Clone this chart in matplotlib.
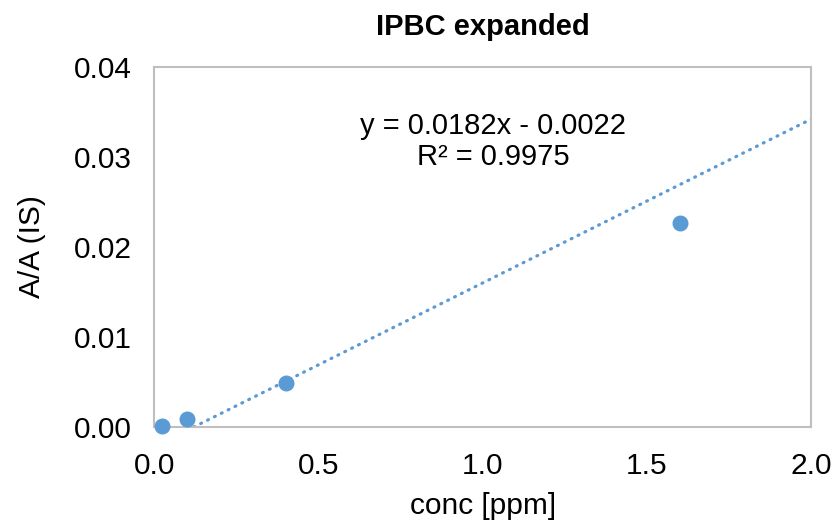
import numpy as np
import matplotlib
matplotlib.use("Agg")
import matplotlib.pyplot as plt

plt.rcParams['font.family'] = ['Liberation Sans', 'DejaVu Sans']

# data
conc = [0.025, 0.1, 0.4, 1.6]
ratio = [0.0001, 0.0009, 0.0049, 0.0226]
slope = 0.0182
intercept = -0.0022
x_ticks = [0.0, 0.5, 1.0, 1.5, 2.0]
y_ticks = [0.00, 0.01, 0.02, 0.03, 0.04]

blue = '#5b9bd5'
grey = '#bfbfbf'

fig = plt.figure(figsize=(8.33, 5.22), dpi=100)
ax = fig.add_axes([0.185, 0.182, 0.789, 0.690])

# trendline, only drawn where y >= 0 (like Excel clips it at the axis)
x0 = -intercept / slope
xs = np.array([x0, x_ticks[-1]])
ax.plot(xs, slope * xs + intercept, linestyle=(0, (0.3, 2.1)), color=blue,
        lw=2.3, dash_capstyle='round', zorder=2)

ax.plot(conc, ratio, 'o', color=blue, ms=10.5, mec=blue, zorder=3, clip_on=False)

ax.set_xlim(0, 2.0)
ax.set_ylim(0, 0.04)
ax.set_xticks(x_ticks)
ax.set_yticks(y_ticks)
ax.set_xticklabels([f'{v:.1f}' for v in x_ticks])
ax.set_yticklabels([f'{v:.2f}' for v in y_ticks])
ax.tick_params(axis='x', length=0, labelsize=21.5, pad=18)
ax.tick_params(axis='y', length=0, labelsize=21.5, pad=16)

for s in ax.spines.values():
    s.set_color(grey)
    s.set_linewidth(1.5)

ax.set_xlabel('conc [ppm]', fontsize=21.5, labelpad=9)
ax.set_ylabel('A/A (IS)', fontsize=21.5, labelpad=20)
ax.set_title('IPBC expanded', fontsize=21, fontweight='bold', pad=23)

ax.text(0.516, 0.793, 'y = 0.0182x - 0.0022\nR² = 0.9975', transform=ax.transAxes,
        ha='center', va='center', fontsize=21, linespacing=1.15)

fig.savefig('out.png', dpi=100)
